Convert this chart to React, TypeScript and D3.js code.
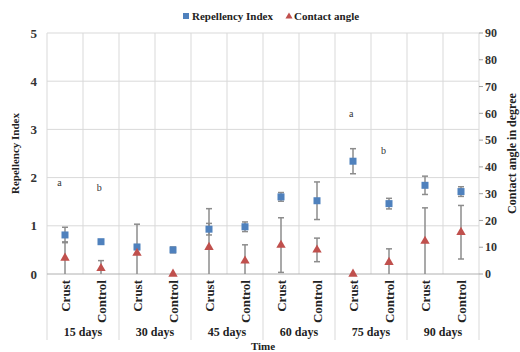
import React from "react";
import * as d3 from "d3";

const groups = ["15 days", "30 days", "45 days", "60 days", "75 days", "90 days"];
const treatments = ["Crust", "Control"];
const repellency = [0.81, 0.67, 0.56, 0.5, 0.93, 0.98, 1.6, 1.52, 2.34, 1.46, 1.84, 1.71];
const repellencyErr = [0.16, 0.03, 0.05, 0.06, 0.12, 0.1, 0.09, 0.39, 0.26, 0.11, 0.19, 0.1];
const contactAngle = [6.0, 2.1, 7.8, 0, 10.0, 4.9, 10.8, 9.0, 0, 4.4, 12.3, 15.6];
const contactErr = [6.0, 2.9, 10.8, 0, 14.4, 6.0, 10.2, 4.4, 0, 5.0, 12.4, 10.0];
const leftTicks = [0, 1, 2, 3, 4, 5];
const rightTicks = [0, 10, 20, 30, 40, 50, 60, 70, 80, 90];
const annoPos = [0.35, 1.45, 8.45, 9.35];
const annoVal = [1.89, 1.8, 3.34, 2.57];
const annoText = ["a", "b", "a", "b"];

const FONT = "Liberation Serif, DejaVu Serif, serif";
const BLUE = "#4f81bd";
const RED = "#c0504d";
const GRID = "#d9d9d9";
const ERR = "#8c8c8c";

export default function App() {
  const W = 520, H = 352;
  const L = 47, R = 479, T = 33, B = 274;
  const cats = groups.flatMap((g) => treatments.map((t) => `${g}|${t}`));
  const x = d3.scaleBand().domain(cats).range([L, R]);
  const xc = d3.scaleLinear().domain([0, cats.length]).range([L, R]);
  const yL = d3.scaleLinear().domain([0, 5]).range([B, T]);
  const yR = d3.scaleLinear().domain([0, 90]).range([B, T]);
  const bw = x.bandwidth();
  const cx = (i: number) => (x(cats[i]) as number) + bw / 2;
  const cap = 3;
  const triPath = d3.symbol(d3.symbolTriangle, 38)();
  const clampR = (v: number) => Math.max(0, Math.min(90, v));
  const clampL = (v: number) => Math.max(0, Math.min(5, v));

  return (
    <svg width={W} height={H} style={{ display: "block", position: "absolute", left: 0, top: 0, fontFamily: FONT }}>
      <rect width={W} height={H} fill="#fff" />
      {leftTicks.filter((t) => t > 0).map((t) => (
        <line key={"h" + t} x1={L} x2={R} y1={yL(t)} y2={yL(t)} stroke={GRID} strokeWidth={1} />
      ))}
      {d3.range(cats.length + 1).map((i) => (
        <line key={"v" + i} x1={xc(i)} x2={xc(i)} y1={T} y2={B} stroke={GRID} strokeWidth={1} />
      ))}
      {d3.range(groups.length + 1).map((i) => (
        <line key={"s" + i} x1={xc(i * 2)} x2={xc(i * 2)} y1={B} y2={340} stroke={GRID} strokeWidth={1} />
      ))}
      <line x1={L} x2={R} y1={B} y2={B} stroke="#b0b0b0" strokeWidth={1} />
      {rightTicks.map((t) => (
        <g key={"r" + t}>
          <line x1={R} x2={R + 4} y1={yR(t)} y2={yR(t)} stroke="#a0a0a0" />
          <text x={R + 6} y={yR(t)} dy="0.35em" fontSize={12} fontWeight="bold" fill="#333">{t}</text>
        </g>
      ))}
      {leftTicks.map((t) => (
        <text key={"l" + t} x={37} y={yL(t)} dy="0.35em" textAnchor="end" fontSize={13} fontWeight="bold" fill="#333">{t}</text>
      ))}
      {contactAngle.map((v, i) => {
        const e = contactErr[i];
        if (e <= 0) return null;
        const lo = clampR(v - e), hi = clampR(v + e);
        return (
          <g key={"ce" + i} stroke={ERR} strokeWidth={1.5}>
            <line x1={cx(i)} x2={cx(i)} y1={yR(lo)} y2={yR(hi)} />
            <line x1={cx(i) - cap} x2={cx(i) + cap} y1={yR(hi)} y2={yR(hi)} />
            {v - e > 0 && <line x1={cx(i) - cap} x2={cx(i) + cap} y1={yR(lo)} y2={yR(lo)} />}
          </g>
        );
      })}
      {repellency.map((v, i) => {
        const e = repellencyErr[i];
        const lo = clampL(v - e), hi = clampL(v + e);
        return (
          <g key={"re" + i} stroke={ERR} strokeWidth={1.5}>
            <line x1={cx(i)} x2={cx(i)} y1={yL(lo)} y2={yL(hi)} />
            <line x1={cx(i) - cap} x2={cx(i) + cap} y1={yL(hi)} y2={yL(hi)} />
            <line x1={cx(i) - cap} x2={cx(i) + cap} y1={yL(lo)} y2={yL(lo)} />
          </g>
        );
      })}
      {repellency.map((v, i) => (
        <rect key={"b" + i} x={cx(i) - 3.5} y={yL(v) - 3.5} width={7} height={7} fill={BLUE} />
      ))}
      {contactAngle.map((v, i) => (
        <path key={"t" + i} d={triPath as string} transform={`translate(${cx(i)},${yR(v)})`} fill={RED} />
      ))}
      {annoText.map((s, i) => (
        <text key={"a" + i} x={xc(annoPos[i])} y={yL(annoVal[i])} dy="0.35em" textAnchor="middle" fontSize={10} fill="#333">{s}</text>
      ))}
      {cats.map((c, i) => (
        <text key={"c" + i} transform={`translate(${cx(i) + 4.5},${B + 6}) rotate(-90)`} textAnchor="end" fontSize={13} fontWeight="bold" fill="#222">
          {treatments[i % 2]}
        </text>
      ))}
      {groups.map((g, i) => (
        <text key={"g" + i} x={xc(i * 2 + 1)} y={332} dy="0.35em" textAnchor="middle" fontSize={12} fontWeight="bold" fill="#222">{g}</text>
      ))}
      <text x={263} y={346} dy="0.35em" textAnchor="middle" fontSize={11} fontWeight="bold" fill="#222">Time</text>
      <text transform={`translate(19,${(T + B) / 2}) rotate(-90)`} textAnchor="middle" fontSize={11} fontWeight="bold" fill="#222">Repellency Index</text>
      <text transform={`translate(516,${(T + B) / 2}) rotate(-90)`} textAnchor="middle" fontSize={12} fontWeight="bold" fill="#222">Contact angle in degree</text>
      <rect x={183} y={13} width={6} height={6} fill={BLUE} />
      <text x={192} y={16} dy="0.35em" fontSize={11} fontWeight="bold" fill="#222">Repellency Index</text>
      <path d={d3.symbol(d3.symbolTriangle, 22)() as string} transform="translate(289,16.5)" fill={RED} />
      <text x={294} y={16} dy="0.35em" fontSize={11} fontWeight="bold" fill="#222">Contact angle</text>
    </svg>
  );
}
